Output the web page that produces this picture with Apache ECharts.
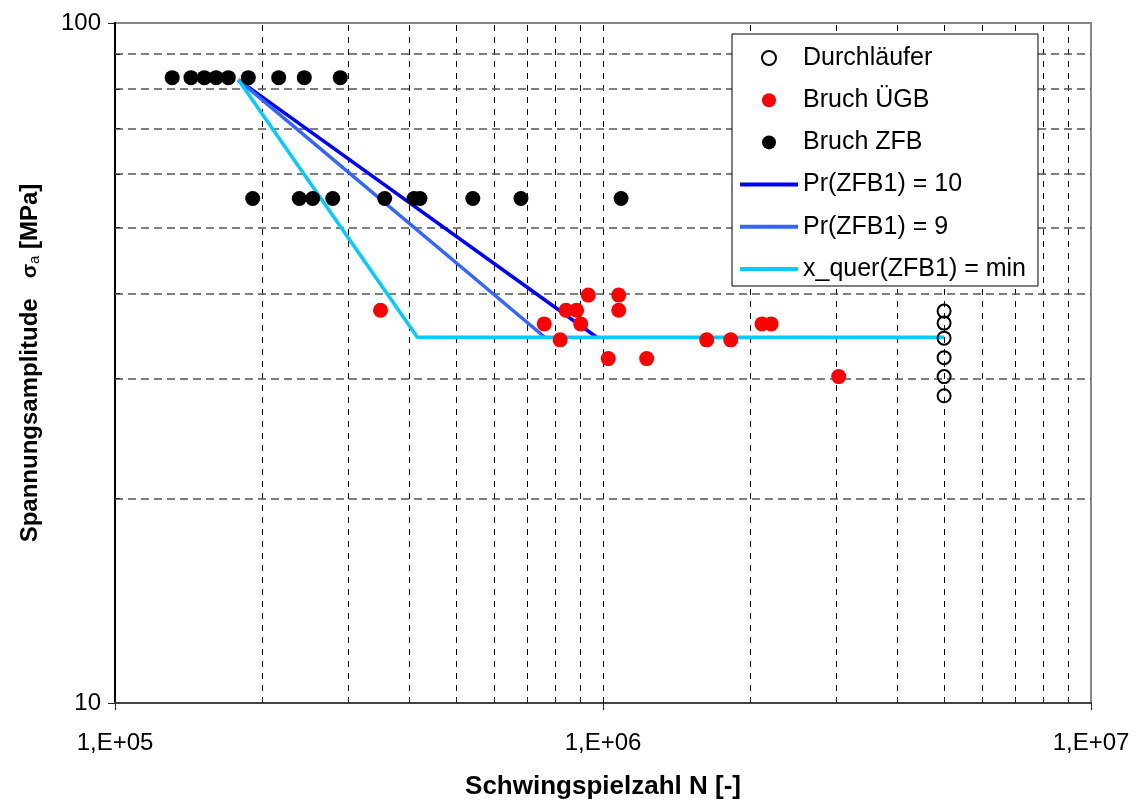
<!DOCTYPE html>
<html>
<head>
<meta charset="utf-8">
<script src="https://cdn.jsdelivr.net/npm/echarts@6/dist/echarts.min.js"></script>
<style>html,body{margin:0;padding:0;background:#fff;}#c{width:1139px;height:805px;}</style>
</head>
<body>
<div id="c"></div>
<script>
// ---- data ----
const runoutN = [5.0e6, 5.0e6, 5.0e6, 5.0e6, 5.0e6, 5.0e6];
const runoutS = [37.7, 36.2, 34.4, 32.2, 30.2, 28.3];

const ugbN = [3.50e5, 7.58e5, 8.17e5, 8.40e5, 8.83e5, 9.00e5, 9.33e5, 1.025e6, 1.077e6, 1.077e6, 1.229e6, 1.631e6, 1.827e6, 2.118e6, 2.210e6, 3.041e6];
const ugbS = [37.8, 36.1, 34.2, 37.8, 37.8, 36.1, 39.8, 32.1, 39.8, 37.8, 32.1, 34.2, 34.2, 36.1, 36.1, 30.2];

const zfbN = [1.310e5, 1.431e5, 1.524e5, 1.611e5, 1.707e5, 1.876e5, 2.165e5, 2.443e5, 2.895e5,
              1.915e5, 2.386e5, 2.542e5, 2.794e5, 3.570e5, 4.100e5, 4.217e5, 5.41e5, 6.79e5, 1.089e6];
const zfbS = [83.1, 83.1, 83.1, 83.1, 83.1, 83.1, 83.1, 83.1, 83.1,
              55.2, 55.2, 55.2, 55.2, 55.2, 55.2, 55.2, 55.2, 55.2, 55.2];

const pr10N = [1.79e5, 9.71e5];
const pr10S = [82.5, 34.5];
const pr9N = [1.79e5, 7.6e5];
const pr9S = [82.5, 34.5];
const xquerN = [1.79e5, 4.165e5, 5.0e6];
const xquerS = [82.5, 34.5, 34.5];

const seriesNames = ['Durchläufer', 'Bruch ÜGB', 'Bruch ZFB', 'Pr(ZFB1) = 10', 'Pr(ZFB1) = 9', 'x_quer(ZFB1) = min'];
const lineSeriesNames = ['Pr(ZFB1) = 10', 'Pr(ZFB1) = 9', 'x_quer(ZFB1) = min'];

// axis ticks / gridlines
const xMin = 1e5, xMax = 1e7, yMin = 10, yMax = 100;
const xTickLabels = {5: '1,E+05', 6: '1,E+06', 7: '1,E+07'};
const xGridValues = [2e5, 3e5, 4e5, 5e5, 6e5, 7e5, 8e5, 9e5, 1e6, 2e6, 3e6, 4e6, 5e6, 6e6, 7e6, 8e6, 9e6];
const yGridValues = [20, 30, 40, 50, 60, 70, 80, 90];

const zip = (a, b) => a.map((v, i) => [v, b[i]]);
const FONT = '"Liberation Sans", Arial, sans-serif';

const chart = echarts.init(document.getElementById('c'), null, {renderer: 'canvas'});

const gridSeries = {
  type: 'scatter', name: '_grid', data: [], silent: true, z: 1,
  markLine: {
    silent: true, symbol: ['none', 'none'], label: {show: false}, animation: false, z: 1,
    emphasis: {disabled: true},
    data: [
      ...xGridValues.map(v => ({xAxis: v, lineStyle: {color: '#000', width: 1, type: [6, 6]}})),
      ...yGridValues.map(v => ({yAxis: v, lineStyle: {color: '#555', width: 1.5, type: [8, 5]}})),
      ...xGridValues.filter(v => v !== 1e6).map(v => [{coord: [v, yMin], lineStyle: {color: '#222', width: 1, type: 'solid'}}, {coord: [v, yMin * 1.017]}]),
      ...yGridValues.map(v => [{coord: [xMin, v], lineStyle: {color: '#222', width: 1, type: 'solid'}}, {coord: [xMin * 1.025, v]}])
    ]
  }
};

const LINE_ICON = 'path://M0,0 L58,0 L58,4 L0,4 Z';

const option = {
  backgroundColor: '#fff',
  animation: false,
  textStyle: {fontFamily: FONT},
  grid: {left: 115, right: 48, top: 23, bottom: 98, show: true, borderColor: '#888', borderWidth: 2, backgroundColor: 'transparent'},
  xAxis: {
    type: 'log', logBase: 10, min: xMin, max: xMax, interval: 1,
    name: 'Schwingspielzahl N [-]', nameLocation: 'middle', nameGap: 71,
    nameTextStyle: {fontSize: 26, fontWeight: 'bold', color: '#000', fontFamily: FONT},
    axisLine: {show: true, lineStyle: {color: '#444', width: 2}},
    axisTick: {show: true, length: 7, lineStyle: {color: '#222', width: 1}},
    axisLabel: {fontSize: 24, color: '#000', margin: 28, fontFamily: FONT,
      formatter: v => xTickLabels[Math.round(Math.log10(v))] || ''},
    splitLine: {show: false}
  },
  yAxis: {
    type: 'log', logBase: 10, min: yMin, max: yMax, interval: 1,
    name: '{b|Spannungsamplitude}{g|   }{s|σ}{sub|a}{g| }{b|[MPa]}', nameLocation: 'middle', nameGap: 73,
    nameTextStyle: {
      color: '#000', fontFamily: FONT,
      rich: {
        b: {fontSize: 24, fontWeight: 'bold', fontFamily: FONT, color: '#000'},
        g: {fontSize: 24, fontFamily: FONT},
        s: {fontSize: 21, fontFamily: FONT, color: '#000', fontWeight: 'bold'},
        sub: {fontSize: 15, fontFamily: FONT, color: '#000', verticalAlign: 'bottom', padding: [6, 0, 0, 0]}
      }
    },
    axisLine: {show: true, lineStyle: {color: '#000', width: 2}},
    axisTick: {show: true, length: 7, lineStyle: {color: '#222', width: 1}},
    axisLabel: {fontSize: 24, color: '#000', margin: 14, fontFamily: FONT},
    splitLine: {show: false}
  },
  legend: {
    data: seriesNames.map(n => lineSeriesNames.includes(n) ? {name: n, icon: LINE_ICON} : {name: n, icon: 'circle'}),
    orient: 'vertical', left: 732, top: 34, z: 50, zlevel: 1,
    padding: [10, 12, 3, 8],
    itemWidth: 58, itemHeight: 14, itemGap: 14.2,
    backgroundColor: '#fff', borderColor: '#000', borderWidth: 1, borderRadius: 0,
    textStyle: {fontSize: 25, color: '#000', fontFamily: FONT, lineHeight: 28},
    selectedMode: false
  },
  series: [
    gridSeries,
    {name: 'Pr(ZFB1) = 10', type: 'line', data: zip(pr10N, pr10S), symbol: 'none', showSymbol: false, z: 3,
      lineStyle: {color: '#0000FF', width: 3.5}, itemStyle: {color: '#0000FF'}},
    {name: 'Pr(ZFB1) = 9', type: 'line', data: zip(pr9N, pr9S), symbol: 'none', showSymbol: false, z: 3,
      lineStyle: {color: '#3366FF', width: 3.5}, itemStyle: {color: '#3366FF'}},
    {name: 'x_quer(ZFB1) = min', type: 'line', data: zip(xquerN, xquerS), symbol: 'none', showSymbol: false, z: 4,
      lineStyle: {color: '#00CCFF', width: 3.5}, itemStyle: {color: '#00CCFF'}},
    {name: 'Durchläufer', type: 'scatter', data: zip(runoutN, runoutS), symbol: 'circle', symbolSize: 13, z: 5,
      itemStyle: {color: 'rgba(255,255,255,0)', borderColor: '#000', borderWidth: 2, opacity: 1}},
    {name: 'Bruch ÜGB', type: 'scatter', data: zip(ugbN, ugbS), symbol: 'circle', symbolSize: 15, z: 5,
      itemStyle: {color: '#FF0000', opacity: 1}},
    {name: 'Bruch ZFB', type: 'scatter', data: zip(zfbN, zfbS), symbol: 'circle', symbolSize: 15, z: 5,
      itemStyle: {color: '#000000', opacity: 1}}
  ]
};
chart.setOption(option);
</script>
</body>
</html>
